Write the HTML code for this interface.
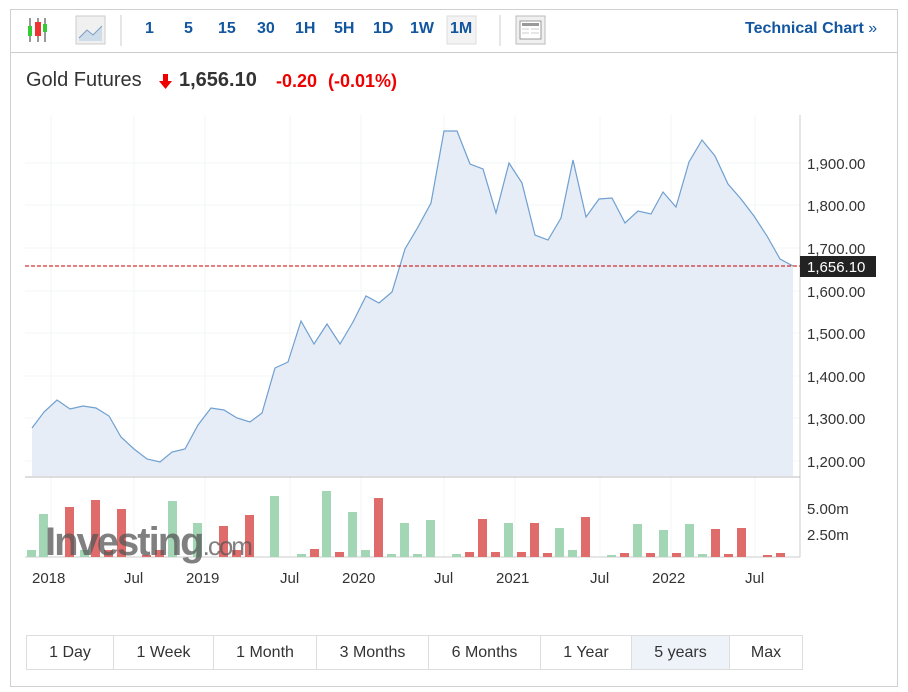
<!DOCTYPE html>
<html><head><style>
body{margin:0;background:#fff;font-family:"Liberation Sans",Arial,sans-serif;}
.box{position:absolute;left:10px;top:9px;width:886px;height:676px;border:1px solid #d0d0d0;}
.tb{position:absolute;left:11px;top:10px;width:886px;height:42px;border-bottom:1px solid #ccc;}
.t{position:absolute;top:20px;font-size:16px;font-weight:bold;color:#1256a0;}
.h{position:absolute;top:69px;font-size:20px;color:#333;white-space:nowrap;}
.btns{position:absolute;left:26px;top:635px;height:33px;border:1px solid #ddd;display:flex;}
.btns div{border-right:1px solid #ddd;font-size:16px;color:#333;line-height:33px;text-align:center;}
</style></head><body>
<div class="box"></div>
<div class="tb"></div>
<svg style="position:absolute;left:0;top:0" width="908" height="692">
<g stroke="#333" stroke-width="1"><line x1="30" y1="18" x2="30" y2="42"/><line x1="38" y1="18" x2="38" y2="42"/><line x1="45" y1="18" x2="45" y2="42"/></g>
<rect x="28" y="26" width="4" height="10" fill="#3c3"/><rect x="35" y="22" width="6" height="14" fill="#e33"/><rect x="43" y="24" width="4" height="8" fill="#3c3"/>
<rect x="76" y="16" width="29" height="28" fill="#f0f0f0" stroke="#ccc"/>
<path d="M79,38 L87,30 L93,35 L102,26 L102,41 L79,41Z" fill="#cfdcea"/><path d="M79,38 L87,30 L93,35 L102,26" fill="none" stroke="#7a9cc0"/>
<line x1="121" y1="15" x2="121" y2="46" stroke="#ccc"/><line x1="500" y1="15" x2="500" y2="46" stroke="#ccc"/>
<rect x="447" y="16" width="29" height="28" fill="#f3f3f3" stroke="#ddd"/>
<rect x="516" y="16" width="29" height="28" fill="#f0f0f0" stroke="#bbb"/>
<rect x="520" y="21" width="21" height="18" fill="#fff" stroke="#999"/><rect x="522" y="23" width="17" height="3" fill="#999"/>
<g stroke="#ccc"><line x1="522" y1="29" x2="529" y2="29"/><line x1="531" y1="29" x2="539" y2="29"/><line x1="522" y1="33" x2="529" y2="33"/><line x1="531" y1="33" x2="539" y2="33"/></g>
<g stroke="#f3f4f6"><line x1="25" y1="163" x2="800" y2="163"/><line x1="25" y1="205" x2="800" y2="205"/><line x1="25" y1="248" x2="800" y2="248"/><line x1="25" y1="291" x2="800" y2="291"/><line x1="25" y1="333" x2="800" y2="333"/><line x1="25" y1="376" x2="800" y2="376"/><line x1="25" y1="418" x2="800" y2="418"/><line x1="25" y1="461" x2="800" y2="461"/>
<line x1="51" y1="115" x2="51" y2="557"/><line x1="134" y1="115" x2="134" y2="557"/><line x1="205" y1="115" x2="205" y2="557"/><line x1="290" y1="115" x2="290" y2="557"/><line x1="361" y1="115" x2="361" y2="557"/><line x1="444" y1="115" x2="444" y2="557"/><line x1="515" y1="115" x2="515" y2="557"/><line x1="600" y1="115" x2="600" y2="557"/><line x1="671" y1="115" x2="671" y2="557"/><line x1="755" y1="115" x2="755" y2="557"/></g>
<path d="M32,476 L32,428 L44,412 L57,400 L70,409 L83,406 L96,408 L109,416 L121,437 L134,449 L147,459 L160,462 L172,452 L185,449 L198,425 L211,408 L224,410 L237,418 L250,422 L262,413 L275,368 L288,362 L301,321 L314,344 L327,324 L340,344 L353,322 L366,296 L379,303 L392,292 L405,249 L418,227 L431,203 L444,131 L457,131 L470,164 L483,169 L496,213 L509,163 L522,183 L535,235 L548,240 L561,218 L573,160 L586,217 L599,199 L612,198 L625,223 L638,211 L651,214 L663,192 L676,207 L689,162 L702,140 L715,156 L728,184 L741,199 L754,216 L767,236 L780,259 L793,266 L793,476Z" fill="#e6edf6"/>
<path d="M32,428 L44,412 L57,400 L70,409 L83,406 L96,408 L109,416 L121,437 L134,449 L147,459 L160,462 L172,452 L185,449 L198,425 L211,408 L224,410 L237,418 L250,422 L262,413 L275,368 L288,362 L301,321 L314,344 L327,324 L340,344 L353,322 L366,296 L379,303 L392,292 L405,249 L418,227 L431,203 L444,131 L457,131 L470,164 L483,169 L496,213 L509,163 L522,183 L535,235 L548,240 L561,218 L573,160 L586,217 L599,199 L612,198 L625,223 L638,211 L651,214 L663,192 L676,207 L689,162 L702,140 L715,156 L728,184 L741,199 L754,216 L767,236 L780,259 L793,266" fill="none" stroke="#6fa0d0" stroke-width="1.2"/>
<line x1="800" y1="115" x2="800" y2="557" stroke="#ccc"/>
<line x1="25" y1="477" x2="800" y2="477" stroke="#bbb"/>
<line x1="25" y1="557" x2="800" y2="557" stroke="#ccc"/>
<line x1="25" y1="266" x2="800" y2="266" stroke="#c00" stroke-dasharray="4,2"/>
<rect x="800" y="256" width="76" height="21" fill="#222"/>
<text x="807" y="272" fill="#fff" font-size="15" font-family="Liberation Sans">1,656.10</text>
<g font-size="15" fill="#333" font-family="Liberation Sans"><text x="807" y="169">1,900.00</text><text x="807" y="211">1,800.00</text><text x="807" y="254">1,700.00</text><text x="807" y="297">1,600.00</text><text x="807" y="339">1,500.00</text><text x="807" y="382">1,400.00</text><text x="807" y="424">1,300.00</text><text x="807" y="467">1,200.00</text>
<text x="807" y="514">5.00m</text><text x="807" y="540">2.50m</text>
<text x="32" y="583">2018</text><text x="124" y="583">Jul</text><text x="186" y="583">2019</text><text x="280" y="583">Jul</text><text x="342" y="583">2020</text><text x="434" y="583">Jul</text><text x="496" y="583">2021</text><text x="590" y="583">Jul</text><text x="652" y="583">2022</text><text x="745" y="583">Jul</text></g>
<g fill="#a3d6b4"><rect x="27" y="550" width="9" height="7"/><rect x="39" y="514" width="9" height="43"/><rect x="80" y="550" width="9" height="7"/><rect x="168" y="501" width="9" height="56"/><rect x="193" y="523" width="9" height="34"/><rect x="270" y="496" width="9" height="61"/><rect x="297" y="554" width="9" height="3"/><rect x="322" y="491" width="9" height="66"/><rect x="348" y="512" width="9" height="45"/><rect x="361" y="550" width="9" height="7"/><rect x="387" y="554" width="9" height="3"/><rect x="400" y="523" width="9" height="34"/><rect x="413" y="554" width="9" height="3"/><rect x="426" y="520" width="9" height="37"/><rect x="452" y="554" width="9" height="3"/><rect x="504" y="523" width="9" height="34"/><rect x="555" y="528" width="9" height="29"/><rect x="568" y="550" width="9" height="7"/><rect x="607" y="555" width="9" height="2"/><rect x="633" y="524" width="9" height="33"/><rect x="659" y="530" width="9" height="27"/><rect x="685" y="524" width="9" height="33"/><rect x="698" y="554" width="9" height="3"/></g>
<g fill="#e06b6b"><rect x="65" y="507" width="9" height="50"/><rect x="91" y="500" width="9" height="57"/><rect x="104" y="550" width="9" height="7"/><rect x="117" y="509" width="9" height="48"/><rect x="142" y="555" width="9" height="2"/><rect x="155" y="550" width="9" height="7"/><rect x="219" y="526" width="9" height="31"/><rect x="232" y="550" width="9" height="7"/><rect x="245" y="515" width="9" height="42"/><rect x="310" y="549" width="9" height="8"/><rect x="335" y="552" width="9" height="5"/><rect x="374" y="498" width="9" height="59"/><rect x="465" y="552" width="9" height="5"/><rect x="478" y="519" width="9" height="38"/><rect x="491" y="552" width="9" height="5"/><rect x="517" y="552" width="9" height="5"/><rect x="530" y="523" width="9" height="34"/><rect x="543" y="553" width="9" height="4"/><rect x="581" y="517" width="9" height="40"/><rect x="620" y="553" width="9" height="4"/><rect x="646" y="553" width="9" height="4"/><rect x="672" y="553" width="9" height="4"/><rect x="711" y="529" width="9" height="28"/><rect x="724" y="554" width="9" height="3"/><rect x="737" y="528" width="9" height="29"/><rect x="763" y="555" width="9" height="2"/><rect x="776" y="553" width="9" height="4"/></g>
<text x="45" y="555" font-size="40" font-weight="bold" fill="#555" fill-opacity="0.75" font-family="Liberation Sans" letter-spacing="-2">Investing<tspan font-size="26" font-weight="normal">.com</tspan></text>
<path d="M163,74 h5 v7 h4 l-6.5,8 l-6.5,-8 h4z" fill="#e00"/>
</svg>
<div class="t" style="left:145px">1</div><div class="t" style="left:184px">5</div><div class="t" style="left:218px">15</div><div class="t" style="left:257px">30</div><div class="t" style="left:295px">1H</div><div class="t" style="left:334px">5H</div><div class="t" style="left:373px">1D</div><div class="t" style="left:410px">1W</div><div class="t" style="left:450px">1M</div>
<div class="t" style="left:745px">Technical Chart <span style="font-weight:normal">»</span></div>
<div class="h" style="left:26px">Gold Futures</div>
<div class="h" style="left:179px;font-weight:bold">1,656.10</div>
<div class="h" style="left:276px;font-weight:bold;color:#e00;font-size:18px;top:71px">-0.20</div>
<div class="h" style="left:328px;font-weight:bold;color:#e00;font-size:18px;top:71px">(-0.01%)</div>
<div class="btns"><div style="width:86px">1 Day</div><div style="width:99px">1 Week</div><div style="width:102px">1 Month</div><div style="width:111px">3 Months</div><div style="width:111px">6 Months</div><div style="width:90px">1 Year</div><div style="width:97px;background:#eef3f9">5 years</div><div style="width:72px;border-right:0">Max</div></div>
</body></html>
